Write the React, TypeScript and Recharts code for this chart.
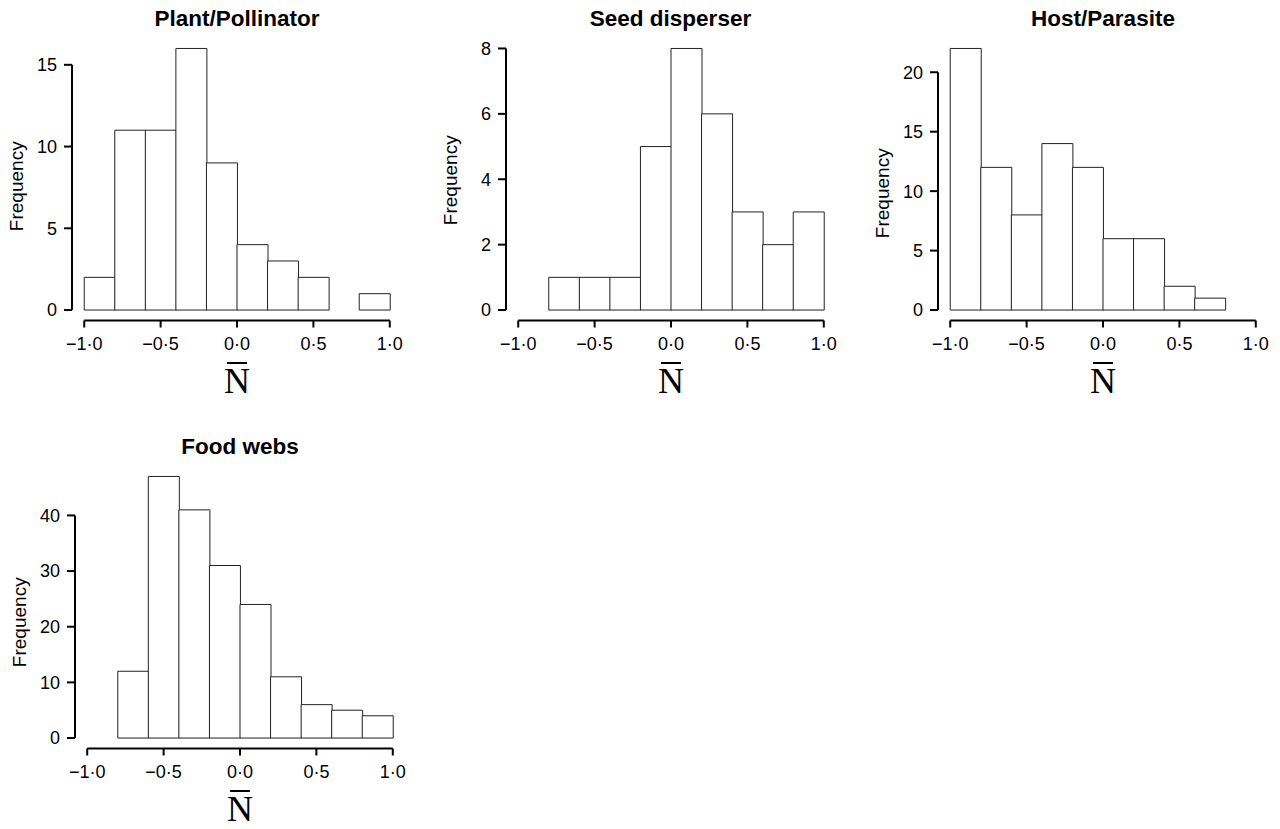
import React from 'react';
import { BarChart, Bar, XAxis, YAxis, ReferenceLine, Label } from 'recharts';

const SANS = "'Liberation Sans', Arial, Helvetica, sans-serif";
const SERIF = "'Liberation Serif', 'Times New Roman', serif";

const panelTitles = ['Plant/Pollinator', 'Seed disperser', 'Host/Parasite', 'Food webs'];

const plantPollinatorMids = [-0.9, -0.7, -0.5, -0.3, -0.1, 0.1, 0.3, 0.5, 0.7, 0.9];
const plantPollinatorCounts = [2, 11, 11, 16, 9, 4, 3, 2, 0, 1];
const plantPollinatorYTicks = [0, 5, 10, 15];

const seedDisperserMids = [-0.7, -0.5, -0.3, -0.1, 0.1, 0.3, 0.5, 0.7, 0.9];
const seedDisperserCounts = [1, 1, 1, 5, 8, 6, 3, 2, 3];
const seedDisperserYTicks = [0, 2, 4, 6, 8];

const hostParasiteMids = [-0.9, -0.7, -0.5, -0.3, -0.1, 0.1, 0.3, 0.5, 0.7];
const hostParasiteCounts = [22, 12, 8, 14, 12, 6, 6, 2, 1];
const hostParasiteYTicks = [0, 5, 10, 15, 20];

const foodWebMids = [-0.7, -0.5, -0.3, -0.1, 0.1, 0.3, 0.5, 0.7, 0.9];
const foodWebCounts = [12, 47, 41, 31, 24, 11, 6, 5, 4];
const foodWebYTicks = [0, 10, 20, 30, 40];

const xTickValues = [-1, -0.5, 0, 0.5, 1];
const xTickLabels = ['\u22121\u00b70', '\u22120\u00b75', '0\u00b70', '0\u00b75', '1\u00b70'];

const X_MIN = -1.08;
const X_MAX = 1.08;

const formatX = (v: number) => {
  const i = xTickValues.findIndex((t) => Math.abs(t - v) < 1e-9);
  return i >= 0 ? xTickLabels[i] : String(v);
};

const NBarLabel = (props: any) => {
  const vb = props.viewBox || { x: 0, y: 0, width: 0, height: 0 };
  const cx = vb.x + vb.width / 2;
  return (
    <g>
      <line x1={cx - 10} x2={cx + 10} y1={vb.y + 42.5} y2={vb.y + 42.5} stroke="#000" strokeWidth={2} />
      <text
        x={cx}
        y={vb.y + 72.5}
        textAnchor="middle"
        fontFamily={SERIF}
        fontSize={36}
        fill="#000"
      >
        N
      </text>
    </g>
  );
};

const makeFreqLabel = (dy: number) => (props: any) => {
  const vb = props.viewBox || { x: 0, y: 0, width: 0, height: 0 };
  const cx = vb.x + 16.5;
  const cy = vb.y + vb.height / 2 + dy;
  return (
    <text
      x={cx}
      y={cy}
      textAnchor="middle"
      dominantBaseline="central"
      transform={`rotate(-90, ${cx}, ${cy})`}
      fontFamily={SANS}
      fontSize={19}
      fill="#000"
    >
      Frequency
    </text>
  );
};

type PanelProps = {
  title: string;
  mids: number[];
  counts: number[];
  yTicks: number[];
  left: number;
  top: number;
  freqDy: number;
};

function Panel({ title, mids, counts, yTicks, left, top, freqDy }: PanelProps) {
  const data = mids.map((m, i) => ({ mid: m, count: counts[i] }));
  const maxCount = Math.max(...counts);
  const pad = maxCount * 0.04;
  const yMin = -pad;
  const yMax = maxCount + pad;
  const W = 430;
  const H = 411;
  return (
    <div style={{ position: 'absolute', left, top, width: W, height: H }}>
      <div
        style={{
          position: 'absolute',
          left: 72,
          width: 330,
          top: 7,
          textAlign: 'center',
          fontFamily: SANS,
          fontWeight: 'bold',
          fontSize: 22.5,
          lineHeight: '24px',
          color: '#000',
          whiteSpace: 'nowrap',
        }}
      >
        {title}
      </div>
      <BarChart
        width={W}
        height={H}
        data={data}
        margin={{ top: 38, right: 28, bottom: 0, left: 0 }}
        barCategoryGap={0}
        barGap={0}
      >
        <XAxis
          dataKey="mid"
          type="number"
          domain={[X_MIN, X_MAX]}
          allowDataOverflow
          ticks={xTickValues}
          interval={0}
          tickFormatter={formatX}
          axisLine={false}
          tickLine={{ stroke: '#000', strokeWidth: 2 }}
          tickSize={7}
          tickMargin={10}
          height={90.5}
          tick={{ fill: '#000', fontSize: 18, fontFamily: SANS }}
        >
          <Label content={NBarLabel} />
        </XAxis>
        <YAxis
          type="number"
          domain={[yMin, yMax]}
          allowDataOverflow
          ticks={yTicks}
          interval={0}
          axisLine={false}
          tickLine={{ stroke: '#000', strokeWidth: 2 }}
          tickSize={8}
          tickMargin={7}
          width={72}
          tick={{ fill: '#000', fontSize: 18, fontFamily: SANS }}
        >
          <Label content={makeFreqLabel(freqDy)} />
        </YAxis>
        <Bar dataKey="count" fill="#fff" stroke="#222" strokeWidth={1} isAnimationActive={false} />
        <ReferenceLine
          segment={[
            { x: xTickValues[0], y: yMin },
            { x: xTickValues[xTickValues.length - 1], y: yMin },
          ]}
          stroke="#000"
          strokeWidth={2}
          ifOverflow="visible"
        />
        <ReferenceLine
          segment={[
            { x: X_MIN, y: yTicks[0] },
            { x: X_MIN, y: yTicks[yTicks.length - 1] },
          ]}
          stroke="#000"
          strokeWidth={2}
          ifOverflow="visible"
        />
      </BarChart>
    </div>
  );
}

export default function App() {
  return (
    <div
      style={{
        position: 'absolute',
        left: 0,
        top: 0,
        width: 1280,
        height: 829,
        background: '#fff',
        overflow: 'hidden',
      }}
    >
      <Panel
        title={panelTitles[0]}
        mids={plantPollinatorMids}
        counts={plantPollinatorCounts}
        yTicks={plantPollinatorYTicks}
        left={0}
        top={0}
        freqDy={7}
      />
      <Panel
        title={panelTitles[1]}
        mids={seedDisperserMids}
        counts={seedDisperserCounts}
        yTicks={seedDisperserYTicks}
        left={433.5}
        top={0}
        freqDy={1}
      />
      <Panel
        title={panelTitles[2]}
        mids={hostParasiteMids}
        counts={hostParasiteCounts}
        yTicks={hostParasiteYTicks}
        left={866}
        top={0}
        freqDy={14}
      />
      <Panel
        title={panelTitles[3]}
        mids={foodWebMids}
        counts={foodWebCounts}
        yTicks={foodWebYTicks}
        left={3}
        top={427.5}
        freqDy={15}
      />
    </div>
  );
}
